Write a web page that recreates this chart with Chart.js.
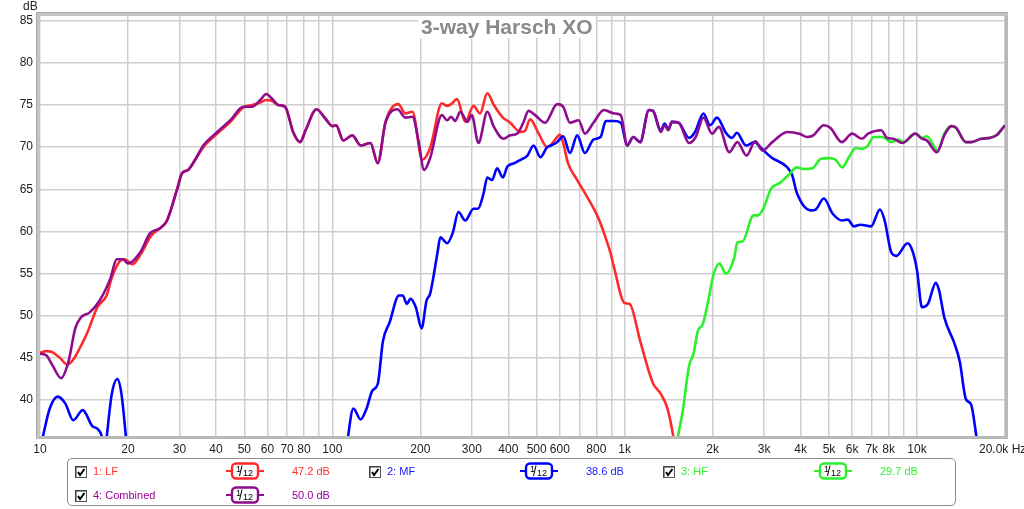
<!DOCTYPE html>
<html>
<head>
<meta charset="utf-8">
<script src="https://cdn.jsdelivr.net/npm/chart.js@4.4.1/dist/chart.umd.min.js"></script>
<style>
  html, body { margin: 0; padding: 0; background: #fff; }
  #wrap { position: relative; width: 1024px; height: 509px; font-family: "Liberation Sans", Arial, sans-serif; }
  #chart { position: absolute; left: 0; top: 0; }
  .lbl { position: absolute; font-size: 12px; color: #222; white-space: nowrap; }
  #title { position: absolute; left: 418px; top: 16px; padding: 0 3px; background: #fff;
           font-size: 21px; font-weight: bold; color: #8a8a8a; line-height: 22px; }
  #legend { position: absolute; left: 67px; top: 458px; width: 889px; height: 48px;
            border: 1px solid #8c8c8c; border-radius: 5px; box-sizing: border-box; }
  .li { position: absolute; font-size: 11px; white-space: nowrap; line-height: 13px; }
  .cb, .sm { position: absolute; }
</style>
</head>
<body>
<div id="wrap">
  <canvas id="chart" width="1024" height="509"></canvas>
  <div id="title">3-way Harsch XO</div>
  <div class="lbl" style="left:23px; top:-1px;">dB</div>
  <div class="lbl" style="left:979px; top:442px;">20.0k Hz</div>
  <div id="legend"></div>
</div>
<script>
// ---- data ----
const lfHz = [10, 10.5, 11, 11.7, 12.4, 13.0, 13.7, 14.6, 15.7, 16.9, 17.6, 18.8, 19.5, 20.7, 22.2, 24.0, 25.8, 27.2, 29.5, 30.6, 32.1, 34, 36.2, 40.4, 44.8, 49.6, 53.3, 56.7, 59.4, 62, 65.3, 68.9, 73.6, 77.6, 81, 88.3, 94.6, 100, 103, 109, 117, 125, 135, 143, 152, 168, 178, 188, 203, 216, 237, 247, 255, 267, 285, 304, 320, 339, 357, 381, 406, 440, 455, 475, 508, 543, 588, 600, 616, 640, 688, 744, 810, 850, 895, 920, 1000, 1040, 1130, 1250, 1330, 1400, 1470, 1550];
const lfDb = [45.6, 45.8, 45.7, 45.0, 44.2, 44.8, 46.2, 48.2, 51.0, 52.4, 54.5, 56.5, 56.7, 56.1, 57.4, 59.5, 60.4, 61.3, 65.1, 66.9, 67.3, 68.5, 70.0, 71.6, 73.0, 74.7, 75.0, 75.3, 75.6, 75.5, 75.0, 74.8, 71.7, 70.6, 72.0, 74.5, 73.4, 72.5, 72.6, 70.8, 71.4, 70.2, 70.5, 68.1, 73.0, 75.1, 74.0, 74.2, 68.5, 69.9, 75.2, 74.9, 75.1, 75.7, 73.0, 74.9, 74.0, 76.4, 75.0, 73.6, 72.9, 71.8, 71.9, 73.3, 71.6, 70.0, 71.2, 71.5, 70.5, 68.1, 66.1, 64.1, 61.7, 59.8, 57.4, 55.7, 51.5, 51.4, 47.0, 42.0, 40.7, 39.0, 35.5, 30];

const mfHz = [10.2, 10.8, 11.5, 12.2, 13.0, 14.0, 15.1, 15.8, 16.3, 16.6, 16.9, 17.6, 18.4, 19.0, 19.7, 20.5, 108, 113, 118, 125, 131, 137, 143, 149, 157, 169, 174, 180, 185, 193, 202, 210, 216, 229, 234, 247, 258, 270, 285, 304, 315, 329, 339, 352, 366, 383, 397, 420, 440, 465, 488, 515, 543, 560, 588, 616, 650, 688, 731, 782, 827, 862, 920, 970, 1020, 1070, 1130, 1210, 1250, 1330, 1370, 1410, 1450, 1530, 1660, 1740, 1860, 1960, 2070, 2220, 2330, 2420, 2600, 2780, 2930, 3170, 3600, 3740, 3880, 4340, 4500, 4800, 5150, 5550, 5800, 6080, 6400, 6960, 7470, 7750, 8170, 8500, 9280, 9650, 10000, 10400, 10900, 11600, 11900, 12400, 13400, 14000, 14700, 15300, 16000, 17000];
const mfDb = [35.5, 39.0, 40.4, 39.6, 37.6, 38.8, 36.9, 36.5, 35.5, 33, 35.5, 40.7, 42.5, 40.7, 35.5, 30, 30, 35.5, 39.0, 37.7, 39.0, 41.1, 41.9, 47.0, 49.2, 52.4, 52.4, 51.4, 52.0, 51.0, 48.5, 51.8, 52.6, 57.5, 59.3, 58.6, 59.8, 62.3, 61.3, 62.7, 62.7, 64.5, 66.4, 66.1, 67.5, 66.4, 67.7, 68.1, 68.5, 69.0, 70.2, 68.8, 70.0, 70.2, 70.6, 71.3, 69.3, 71.4, 69.3, 70.9, 71.2, 73.1, 73.1, 72.9, 70.2, 71.2, 70.6, 74.4, 74.3, 72.0, 72.8, 72.1, 73.0, 72.9, 71.1, 71.8, 74.0, 72.6, 73.5, 71.7, 71.1, 71.7, 70.2, 70.6, 69.9, 68.8, 67.6, 66.7, 64.6, 62.5, 62.6, 63.9, 62.1, 61.3, 61.4, 60.6, 60.8, 60.6, 62.6, 61.3, 57.5, 57.1, 58.6, 57.7, 55.4, 51.0, 51.4, 53.9, 53.0, 49.8, 46.8, 44.6, 40.1, 39.5, 35.5, 30];

const hfHz = [10, 10.4, 1450, 1520, 1580, 1660, 1720, 1780, 1850, 1940, 2010, 2110, 2220, 2370, 2430, 2530, 2760, 2860, 2980, 3170, 3380, 3640, 3880, 4100, 4390, 4680, 4990, 5270, 5550, 5850, 6180, 6500, 6800, 7100, 7600, 8170, 8600, 9030, 9870, 10400, 10800, 11800, 12400, 13100, 13600, 14700, 15300, 16600, 17800, 18700, 20000];
const hfDb = [35.7, 30, 30, 35.5, 38.7, 44.0, 45.5, 48.2, 49.0, 52.1, 54.8, 56.2, 55.0, 56.9, 58.7, 58.8, 61.9, 61.9, 62.7, 65.1, 65.7, 66.7, 67.6, 67.4, 67.5, 68.6, 68.7, 68.5, 67.6, 68.8, 69.9, 69.8, 70.2, 71.2, 71.2, 70.6, 70.9, 70.6, 71.6, 71.1, 71.3, 69.6, 71.6, 72.5, 72.3, 70.6, 70.6, 71.0, 71.1, 71.4, 72.6];

const combHz = [10, 10.5, 11, 11.8, 12.5, 13.2, 13.8, 14.8, 16.0, 17.4, 18.3, 19.2, 20, 22, 23.8, 25.8, 27.2, 29.5, 30.6, 32.1, 33.9, 36.2, 40.4, 44.8, 49.6, 53.3, 56.7, 59.4, 62, 65.3, 68.9, 73.6, 77.6, 81, 88.3, 94.6, 100, 103, 109, 117, 125, 135, 143, 152, 167, 178, 188, 197, 206, 216, 237, 247, 255, 263, 274, 290, 300, 316, 339, 357, 385, 406, 429, 450, 469, 494, 534, 588, 616, 650, 696, 731, 782, 850, 920, 970, 1020, 1070, 1130, 1210, 1250, 1330, 1370, 1410, 1450, 1530, 1660, 1750, 1860, 1990, 2100, 2280, 2430, 2610, 2800, 2960, 3200, 3600, 3960, 4210, 4420, 4800, 5050, 5530, 6000, 6480, 6800, 7540, 7900, 8300, 8900, 9870, 10400, 10800, 11700, 12400, 13100, 13600, 14700, 15300, 16600, 17800, 18700, 20000];
const combDb = [45.5, 45.3, 44.2, 42.6, 44.5, 48.5, 49.8, 50.4, 51.8, 54.4, 56.7, 56.7, 56.2, 57.5, 59.8, 60.4, 61.3, 65.1, 66.9, 67.3, 68.5, 70.2, 71.8, 73.2, 74.8, 74.8, 75.6, 76.3, 75.8, 75.0, 74.8, 71.7, 70.6, 72.0, 74.5, 73.4, 72.5, 72.6, 70.8, 71.4, 70.2, 70.5, 68.1, 72.9, 74.5, 73.5, 73.6, 70.8, 67.3, 68.7, 73.8, 73.2, 73.6, 73.1, 74.2, 73.0, 73.8, 70.5, 74.2, 72.4, 71.0, 71.4, 71.6, 72.9, 74.3, 73.8, 72.9, 75.1, 74.8, 72.9, 73.2, 71.6, 72.9, 74.4, 74.0, 73.8, 70.2, 71.2, 70.6, 74.4, 74.3, 71.8, 72.6, 72.0, 73.0, 72.9, 70.5, 71.2, 73.5, 71.6, 72.4, 69.4, 70.6, 69.0, 70.7, 69.6, 70.6, 71.8, 71.6, 71.2, 71.4, 72.6, 72.3, 70.6, 71.6, 71.0, 71.6, 72.0, 71.1, 71.0, 70.5, 71.6, 71.0, 70.8, 69.4, 71.4, 72.5, 72.3, 70.6, 70.6, 71.0, 71.1, 71.4, 72.6];

const xGridHz = [10, 20, 30, 40, 50, 60, 70, 80, 90, 100, 200, 300, 400, 500, 600, 700, 800, 900, 1000, 2000, 3000, 4000, 5000, 6000, 7000, 8000, 9000, 10000, 20000];
const xLabelHz = [10, 20, 30, 40, 50, 60, 70, 80, 100, 200, 300, 400, 500, 600, 800, 1000, 2000, 3000, 4000, 5000, 6000, 7000, 8000, 10000];
const xLabelText = ['10', '20', '30', '40', '50', '60', '70', '80', '100', '200', '300', '400', '500', '600', '800', '1k', '2k', '3k', '4k', '5k', '6k', '7k', '8k', '10k'];
const yTicks = [40, 45, 50, 55, 60, 65, 70, 75, 80, 85];

const traces = [
  { name: '1: LF', hz: lfHz, db: lfDb, color: '#ff2a2a', text: '#ff3030', level: '47.2 dB', order: 4 },
  { name: '2: MF', hz: mfHz, db: mfDb, color: '#0000ff', text: '#1a1aff', level: '38.6 dB', order: 3 },
  { name: '3: HF', hz: hfHz, db: hfDb, color: '#2cf02c', text: '#33ee33', level: '29.7 dB', order: 2 },
  { name: '4: Combined', hz: combHz, db: combDb, color: '#8e0c8e', text: '#990099', level: '50.0 dB', order: 1 }
];

function toPoints(hz, db) {
  return hz.map((f, i) => ({ x: f, y: db[i] }));
}

// grey frame round the plot, REW style
const framePlugin = {
  id: 'frame',
  afterDraw(chart) {
    const { ctx, chartArea: a } = chart;
    ctx.save();
    ctx.fillStyle = '#c4c4c4';
    ctx.fillRect(a.left - 4, a.top - 4, a.right - a.left + 7, 4);
    ctx.fillRect(a.left - 4, a.top - 4, 4, a.bottom - a.top + 7);
    ctx.fillStyle = '#a9a9a9';
    ctx.fillRect(a.left - 4, a.top - 4, a.right - a.left + 7, 1);
    ctx.fillRect(a.left - 4, a.top - 4, 1, a.bottom - a.top + 7);
    ctx.fillStyle = '#b8b8b8';
    ctx.fillRect(a.right, a.top - 1, 3, a.bottom - a.top + 4);
    ctx.fillRect(a.left - 1, a.bottom, a.right - a.left + 4, 3);
    ctx.restore();
  }
};

new Chart(document.getElementById('chart'), {
  type: 'line',
  data: {
    datasets: traces.map(t => ({
      label: t.name,
      data: toPoints(t.hz, t.db),
      borderColor: t.color,
      borderWidth: 2.6,
      pointRadius: 0,
      cubicInterpolationMode: 'monotone',
      fill: false,
      order: t.order
    }))
  },
  options: {
    responsive: false,
    animation: false,
    layout: { padding: { left: 0, top: 16, right: 19, bottom: 53 } },
    plugins: { legend: { display: false }, tooltip: { enabled: false }, title: { display: false } },
    scales: {
      x: {
        type: 'logarithmic',
        min: 10,
        max: 20000,
        afterBuildTicks: (scale) => { scale.ticks = xGridHz.map(v => ({ value: v })); },
        afterFit: (scale) => { scale.height = 20; },
        grid: { color: '#cfcfcf', lineWidth: 1.5, drawTicks: false },
        border: { display: false },
        ticks: {
          autoSkip: false, maxRotation: 0, minRotation: 0, padding: 6,
          color: '#222', font: { family: 'Liberation Sans', size: 12 },
          callback: (v) => { const i = xLabelHz.indexOf(v); return i < 0 ? '' : xLabelText[i]; }
        }
      },
      y: {
        type: 'linear',
        min: 35.73,
        max: 85.56,
        afterBuildTicks: (scale) => { scale.ticks = yTicks.map(v => ({ value: v })); },
        afterFit: (scale) => { scale.width = 40; },
        grid: { color: '#cfcfcf', lineWidth: 1.5, drawTicks: false },
        border: { display: false },
        ticks: { padding: 7, color: '#222', font: { family: 'Liberation Sans', size: 12 } }
      }
    }
  },
  plugins: [framePlugin]
});

// legend box under the plot, built from the same trace list
const legend = document.getElementById('legend');
const cols = [0, 294, 588];
traces.forEach((t, i) => {
  const col = i < 3 ? cols[i] : 0;
  const row = i < 3 ? 0 : 1;
  const top = row === 0 ? 7 : 31;
  const left = 7 + col;
  legend.insertAdjacentHTML('beforeend',
    `<svg class="cb" style="left:${left}px;top:${top}px" width="12" height="12">
       <rect x="0.5" y="0.5" width="11" height="11" fill="#fff" stroke="#555"/>
       <line x1="0.5" y1="1" x2="11.5" y2="1" stroke="#333"/>
       <line x1="1" y1="0.5" x2="1" y2="11.5" stroke="#333"/>
       <polyline points="3,6 5,9 9.5,3" fill="none" stroke="#000" stroke-width="2"/>
     </svg>
     <span class="li" style="left:${left + 18}px;top:${top - 1}px;color:${t.text}">${t.name}</span>
     <svg class="sm" style="left:${left + 151}px;top:${top - 4}px" width="38" height="18">
       <line x1="0" y1="9" x2="38" y2="9" stroke="${t.color}" stroke-width="2"/>
       <rect x="6" y="1.5" width="26" height="15" rx="4" fill="#fff" stroke="${t.color}" stroke-width="2.4"/>
       <text x="10" y="10" font-size="9" font-family="Liberation Sans">1</text>
       <line x1="16" y1="3.5" x2="13.5" y2="14" stroke="#000" stroke-width="1"/>
       <text x="17" y="14" font-size="9" font-family="Liberation Sans">12</text>
     </svg>
     <span class="li" style="left:${left + 217}px;top:${top - 1}px;color:${t.text}">${t.level}</span>`);
});
</script>
</body>
</html>
